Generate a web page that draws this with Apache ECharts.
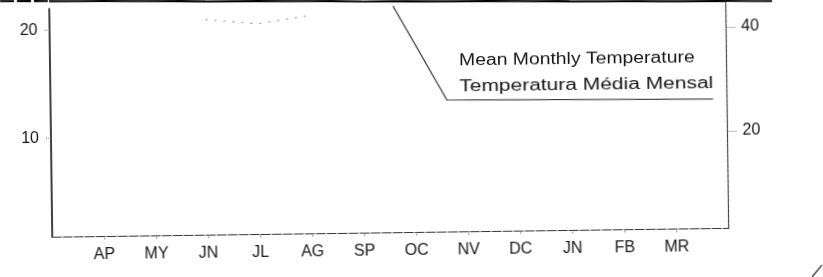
<!DOCTYPE html>
<html lang="pt">
<head>
    <meta charset="UTF-8">
    <title>Temperatura Média Mensal</title>
    <style>
        html,body{
            margin: 0;
            padding: 0;
            width: 823px;
            height: 277px;
            overflow: hidden;
            background: #fff;
        }
        /* the scan is turned a little, so the whole chart is turned too */
        #chart_temp{
            position: absolute;
            left: -10px;
            top: -10px;
            width: 843px;
            height: 297px;
            transform: rotate(-0.75deg);
            transform-origin: 50% 50%;
        }
    </style>
</head>
<body>
    <div id="chart_temp"></div>
</body>
</html>
<script src="https://cdn.jsdelivr.net/npm/echarts@6/dist/echarts.min.js"></script>
<script>
    // months on the axis, empty at both ends
    var months = ['', 'AP', 'MY', 'JN', 'JL', 'AG', 'SP', 'OC', 'NV', 'DC', 'JN', 'FB', 'MR', ''];
    // mean monthly temperature (runs along the top edge)
    var tempMean = [22.7, 22.65, 22.6, 22.5, 22.45, 22.4, 22.3, 22.25, 22.2, 22.15, 22.05, 22.0, 21.95, 21.9];
    // faint dotted trace left in the scan
    var faintTrace = [null, null, null, 20.8, 20.35, 21.05, null, null, null, null, null, null, null, null];
    var leftTicks = [10, 20];
    var rightTicks = [20, 40];

    var font = 'Liberation Sans, Arial, sans-serif';
    var ink = '#161616';

    var myChart = echarts.init(document.getElementById('chart_temp'));

    myChart.setOption({
        animation: false,
        backgroundColor: 'transparent',
        grid: {
            left: 61,
            right: 105.5,
            top: 14,
            bottom: 54.7
        },
        xAxis: {
            type: 'category',
            data: months,
            boundaryGap: false,
            axisLine: {lineStyle: {color: '#333', width: 1.2, type: [9, 2]}},
            axisTick: {
                show: true,
                length: 4,
                interval: function (i, v) { return v !== ''; },
                lineStyle: {color: '#555', type: 'dotted'}
            },
            axisLabel: {
                interval: 0,
                margin: 10,
                color: ink,
                fontFamily: font,
                fontSize: 16
            },
            splitLine: {show: false}
        },
        yAxis: [{
            type: 'value',
            position: 'left',
            min: 0.8,
            max: 22,
            axisLine: {show: true, lineStyle: {color: '#111', width: 1.6}},
            axisTick: {show: true, length: 6, customValues: leftTicks, lineStyle: {color: '#777', type: 'dotted'}},
            axisLabel: {margin: 12, color: ink, fontFamily: font, fontSize: 16, customValues: leftTicks},
            splitLine: {show: false}
        }, {
            type: 'value',
            position: 'right',
            min: 1.3,
            max: 45.2,
            axisLine: {show: true, lineStyle: {color: '#444', width: 1.2, type: [4, 1]}},
            axisTick: {show: true, length: 9, customValues: rightTicks, lineStyle: {color: '#777', type: 'dotted'}},
            axisLabel: {margin: 15, color: ink, fontFamily: font, fontSize: 16, customValues: rightTicks},
            splitLine: {show: false}
        }],
        series: [{
            name: 'Mean Monthly Temperature',
            type: 'line',
            yAxisIndex: 0,
            data: tempMean,
            symbol: 'none',
            clip: false,
            lineStyle: {color: '#000', width: 2.2}
        }, {
            name: 'trace',
            type: 'line',
            yAxisIndex: 0,
            data: faintTrace,
            symbol: 'none',
            lineStyle: {color: '#999', width: 1.2, type: [2, 7]}
        }],
        graphic: [
            // ends of the dark top edge beyond the axes
            {type: 'line', shape: {x1: 11.8, y1: 5.6, x2: 62.8, y2: 6.3}, style: {stroke: '#000', lineWidth: 2.2, lineDash: [14, 3]}},
            {type: 'line', shape: {x1: 737.5, y1: 15.1, x2: 783.8, y2: 15.7}, style: {stroke: '#000', lineWidth: 2}},
            // leader and underline of the label
            {type: 'polyline', shape: {points: [[404.7, 15.8], [457.5, 110.5], [723.5, 113]]}, style: {stroke: '#222', lineWidth: 1.1, fill: null}},
            {
                type: 'text', x: 470, y: 72, scaleX: 1.21,
                style: {text: 'Mean Monthly Temperature', font: '16px ' + font, fill: ink, align: 'left', verticalAlign: 'middle'}
            },
            {
                type: 'text', x: 470, y: 98, scaleX: 1.31,
                style: {text: 'Temperatura Média Mensal', font: '16px ' + font, fill: ink, align: 'left', verticalAlign: 'middle'}
            },
            // small stroke at the bottom right corner
            {type: 'line', shape: {x1: 820.2, y1: 292.2, x2: 830.3, y2: 280.4}, style: {stroke: '#222', lineWidth: 1.3}}
        ]
    });
</script>
